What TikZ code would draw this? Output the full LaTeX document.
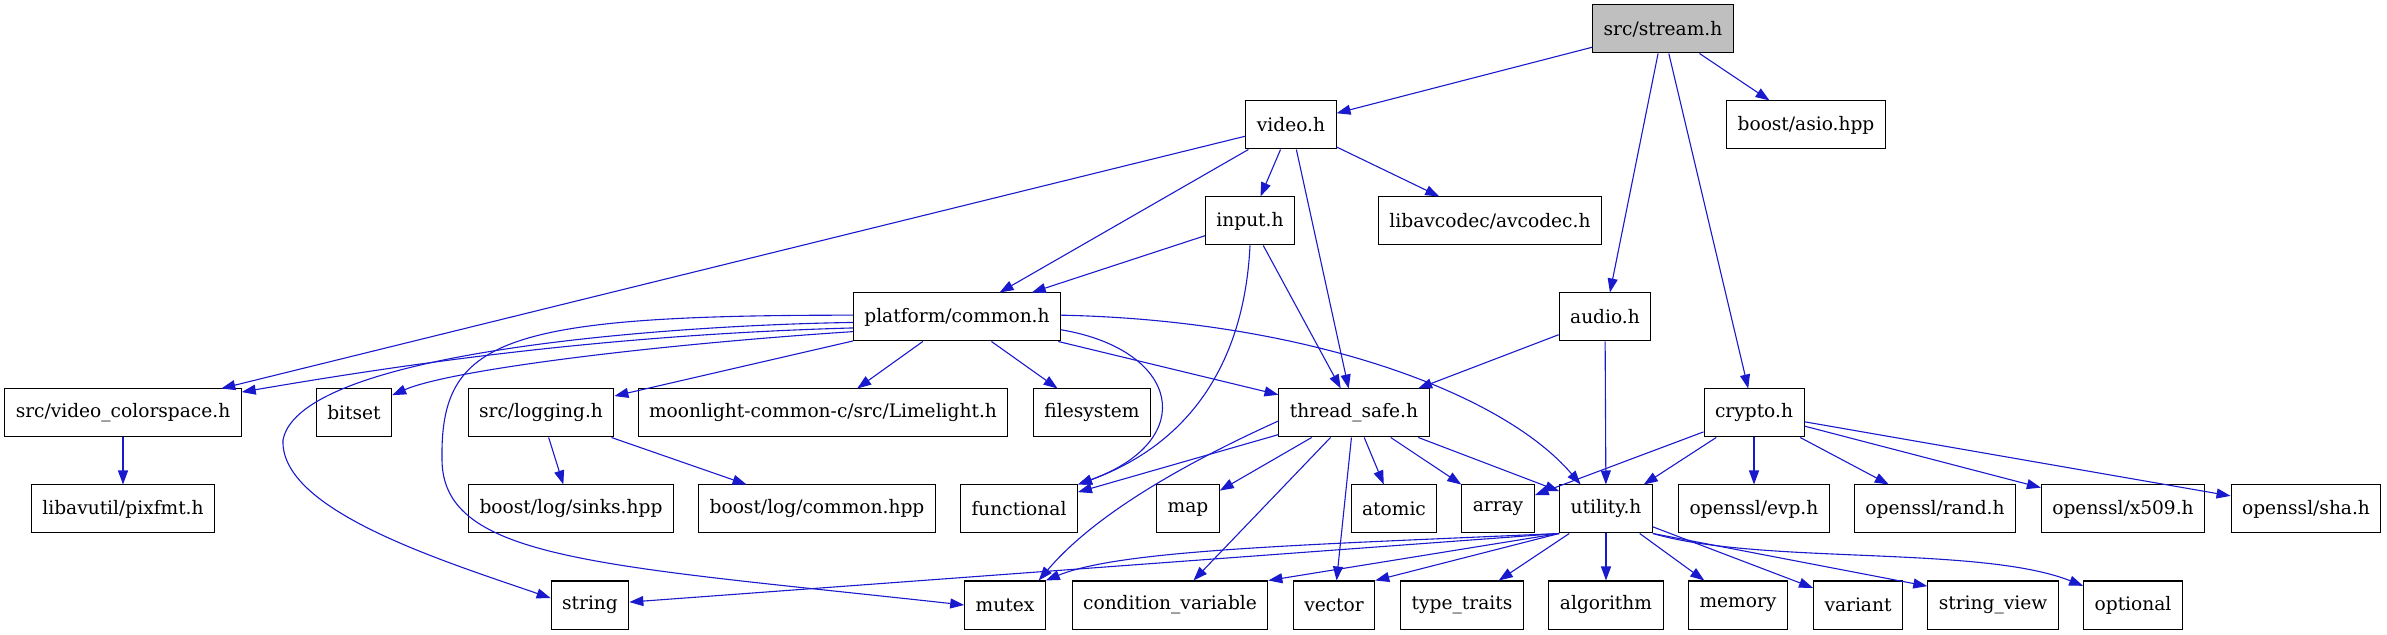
\documentclass[tikz,border=0pt]{standalone}
\usepackage{fontspec}
\setmainfont{DejaVu Serif}
\usetikzlibrary{arrows.meta}
\definecolor{edgeblue}{RGB}{25,25,205}
\definecolor{rootgray}{RGB}{191,191,191}
\tikzset{
  hdr/.style={draw, line width=0.5pt, rectangle, minimum height=24pt, inner xsep=5.5pt, inner ysep=2pt,
    font=\fontsize{9.3}{11}\selectfont},
  root/.style={hdr, fill=rootgray},
  inc/.style={-{Triangle[length=7pt,width=5pt]}, edgeblue, line width=0.55pt}
}
\begin{document}
\begin{tikzpicture}[x=0.5pt,y=-0.5pt]
\useasboundingbox (0,0) rectangle (2387,635);
% row 0 and 1
\node[root] (stream) at (1663,29) {src/stream.h};
\node[hdr] (video) at (1291,125) {video.h};
\node[hdr] (asio) at (1806,125) {boost/asio.hpp};
% row 2 and 3
\node[hdr] (input) at (1250,221) {input.h};
\node[hdr] (avcodec) at (1490,221) {libavcodec/avcodec.h};
\node[hdr] (common) at (957,317) {platform/common.h};
\node[hdr] (audio) at (1605,317) {audio.h};
% row 4
\node[hdr] (colorspace) at (123,413) {src/video\_colorspace.h};
\node[hdr] (bitset) at (354,413) {bitset};
\node[hdr] (logging) at (541,413) {src/logging.h};
\node[hdr] (limelight) at (823,413) {moonlight-common-c/src/Limelight.h};
\node[hdr] (filesystem) at (1092,413) {filesystem};
\node[hdr] (threadsafe) at (1354,413) {thread\_safe.h};
\node[hdr] (crypto) at (1754,413) {crypto.h};
% row 5
\node[hdr] (pixfmt) at (123,509) {libavutil/pixfmt.h};
\node[hdr] (sinks) at (571,509) {boost/log/sinks.hpp};
\node[hdr] (logcommon) at (817,509) {boost/log/common.hpp};
\node[hdr] (functional) at (1019,509) {functional};
\node[hdr] (map) at (1188,509) {map};
\node[hdr] (atomic) at (1394,509) {atomic};
\node[hdr] (array) at (1498,509) {array};
\node[hdr] (utility) at (1606,509) {utility.h};
\node[hdr] (evp) at (1754,509) {openssl/evp.h};
\node[hdr] (rand) at (1935,509) {openssl/rand.h};
\node[hdr] (x509) at (2123,509) {openssl/x509.h};
\node[hdr] (sha) at (2306,509) {openssl/sha.h};
% row 6
\node[hdr] (string) at (590,605) {string};
\node[hdr] (mutex) at (1005,605) {mutex};
\node[hdr] (condvar) at (1170,605) {condition\_variable};
\node[hdr] (vector) at (1334,605) {vector};
\node[hdr] (typetraits) at (1462,605) {type\_traits};
\node[hdr] (algorithm) at (1606,605) {algorithm};
\node[hdr] (memory) at (1738,605) {memory};
\node[hdr] (variant) at (1858,605) {variant};
\node[hdr] (stringview) at (1993,605) {string\_view};
\node[hdr] (optional) at (2133,605) {optional};
% src/stream.h
\draw[inc] (stream) -- (video);
\draw[inc] (stream) -- (audio);
\draw[inc] (stream) -- (crypto);
\draw[inc] (stream) -- (asio);
% video.h
\draw[inc] (video) -- (colorspace.14);
\draw[inc] (video) -- (common);
\draw[inc] (video) -- (input);
\draw[inc] (video) -- (threadsafe);
\draw[inc] (video) -- (avcodec);
% input.h
\draw[inc] (input) -- (common);
\draw[inc] (input) -- (threadsafe);
\draw[inc] (input.south) .. controls (1245,350) and (1200,440) .. (functional.north east);
% platform/common.h
\draw[inc] (common.186) .. controls (600,335) and (400,365) .. (colorspace.10);
\draw[inc] (common.188) .. controls (650,345) and (450,370) .. (bitset.25);
\draw[inc] (common.183) .. controls (680,325) and (300,350) .. (283,440)
  .. controls (280,510) and (440,560) .. (string.170);
\draw[inc] (common.179) .. controls (500,315) and (440,340) .. (442,460)
  .. controls (443,560) and (600,565) .. (mutex.west);
\draw[inc] (common) -- (logging);
\draw[inc] (common) -- (limelight);
\draw[inc] (common) -- (filesystem);
\draw[inc] (common.-7) .. controls (1180,350) and (1200,440) .. (functional.north east);
\draw[inc] (common) -- (threadsafe);
\draw[inc] (common.1) .. controls (1300,320) and (1500,390) .. (utility.136);
% audio.h
\draw[inc] (audio) -- (threadsafe);
\draw[inc] (audio) -- (utility);
% crypto.h
\draw[inc] (crypto) -- (array);
\draw[inc] (crypto) -- (utility);
\draw[inc] (crypto) -- (evp);
\draw[inc] (crypto) -- (rand);
\draw[inc] (crypto) -- (x509);
\draw[inc] (crypto) -- (sha);
% second level
\draw[inc] (colorspace) -- (pixfmt);
\draw[inc] (logging) -- (sinks);
\draw[inc] (logging) -- (logcommon);
% thread_safe.h
\draw[inc] (threadsafe) -- (functional);
\draw[inc] (threadsafe.186) .. controls (1170,470) and (1090,520) .. (mutex.36);
\draw[inc] (threadsafe) -- (map);
\draw[inc] (threadsafe) -- (condvar);
\draw[inc] (threadsafe) -- (vector);
\draw[inc] (threadsafe) -- (atomic);
\draw[inc] (threadsafe) -- (array);
\draw[inc] (threadsafe) -- (utility);
% utility.h
\draw[inc] (utility.south west) -- (string);
\draw[inc] (utility.south west) .. controls (1300,545) and (1120,550) .. (mutex.north east);
\draw[inc] (utility.south west) -- (condvar.north east);
\draw[inc] (utility.south west) -- (vector.north east);
\draw[inc] (utility) -- (typetraits);
\draw[inc] (utility) -- (algorithm);
\draw[inc] (utility) -- (memory);
\draw[inc] (utility) -- (variant);
\draw[inc] (utility.south east) -- (stringview.164);
\draw[inc] (utility.south east) .. controls (1760,565) and (1980,545) .. (optional.159);
\end{tikzpicture}
\end{document}
